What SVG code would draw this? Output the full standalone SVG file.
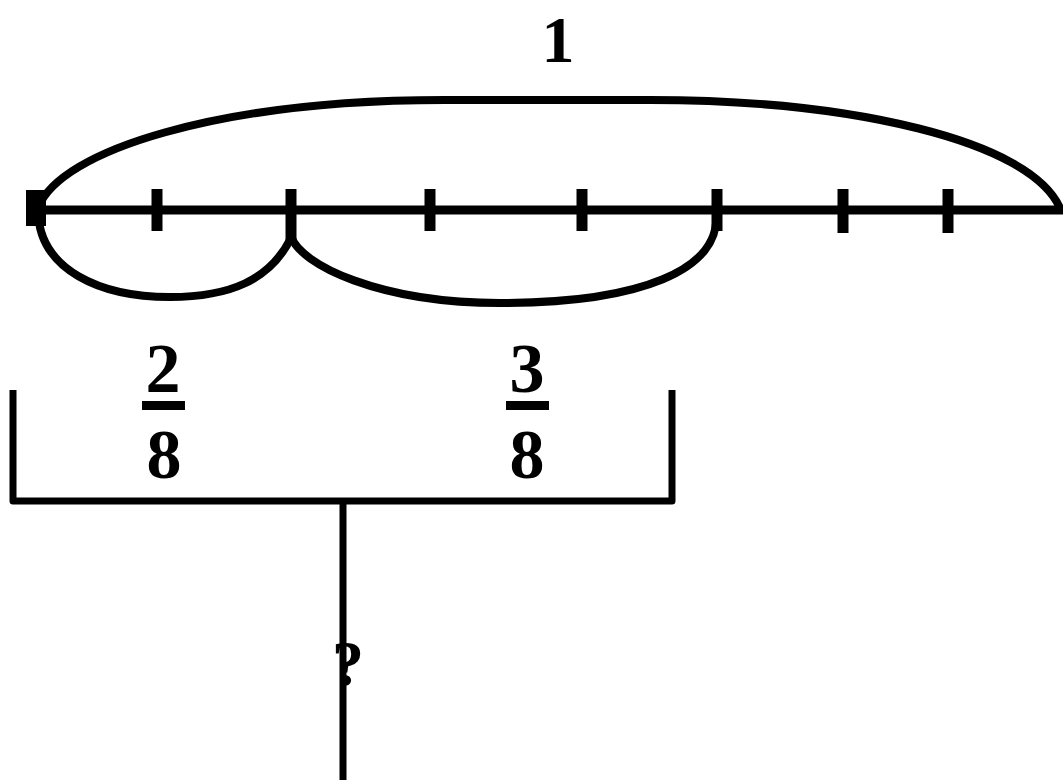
<svg xmlns="http://www.w3.org/2000/svg" width="1063" height="780" viewBox="0 0 1063 780">
<style>
.ln{fill:none;stroke:#000;stroke-linecap:butt;stroke-linejoin:round}
.t{font-family:"Liberation Serif","Times New Roman",serif;font-weight:bold;fill:#000;text-anchor:middle}
</style>
<rect width="1063" height="780" fill="#fff"/>
<g id="number-line">
<line class="ln" x1="30" y1="210" x2="1063" y2="210" stroke-width="9"/>
<rect x="26" y="190" width="20" height="36" fill="#000"/>
<g class="ln" stroke-width="11">
<line x1="157" y1="189" x2="157" y2="231"/>
<line x1="291" y1="189" x2="291" y2="240"/>
<line x1="430" y1="189" x2="430" y2="231"/>
<line x1="582" y1="189" x2="582" y2="231"/>
<line x1="717" y1="189" x2="717" y2="231"/>
<line x1="843" y1="189" x2="843" y2="233"/>
<line x1="948" y1="189" x2="948" y2="233"/>
</g>
</g>
<g id="connectors">
<path class="ln" stroke-width="8" d="M38 208 C60 150 220 100 445 100 L650 100 C850 100 1030 140 1060 208"/>
<path class="ln" stroke-width="8" d="M38 212 C40 270 100 297 170 297 C230 297 270 280 291 238"/>
<path class="ln" stroke-width="8" d="M291 236 C300 265 380 303 500 303 C640 303 722 270 716 212"/>
<path class="ln" stroke-width="7" d="M13 390 L13 501 L672 501 L672 390"/>
<line class="ln" x1="343" y1="501" x2="343" y2="780" stroke-width="7"/>
</g>
<g id="label-one"><text class="t" x="558" y="62" font-size="66">1</text></g>
<g id="frac-2-8">
<text class="t" x="163" y="392" font-size="70">2</text>
<rect x="142" y="401" width="43" height="9" fill="#000"/>
<text class="t" x="164" y="478" font-size="70">8</text>
</g>
<g id="frac-3-8">
<text class="t" x="527" y="392" font-size="70">3</text>
<rect x="506" y="401" width="43" height="9" fill="#000"/>
<text class="t" x="527" y="478" font-size="70">8</text>
</g>
<g id="question"><text class="t" x="348" y="685" font-size="64">?</text></g>
</svg>
